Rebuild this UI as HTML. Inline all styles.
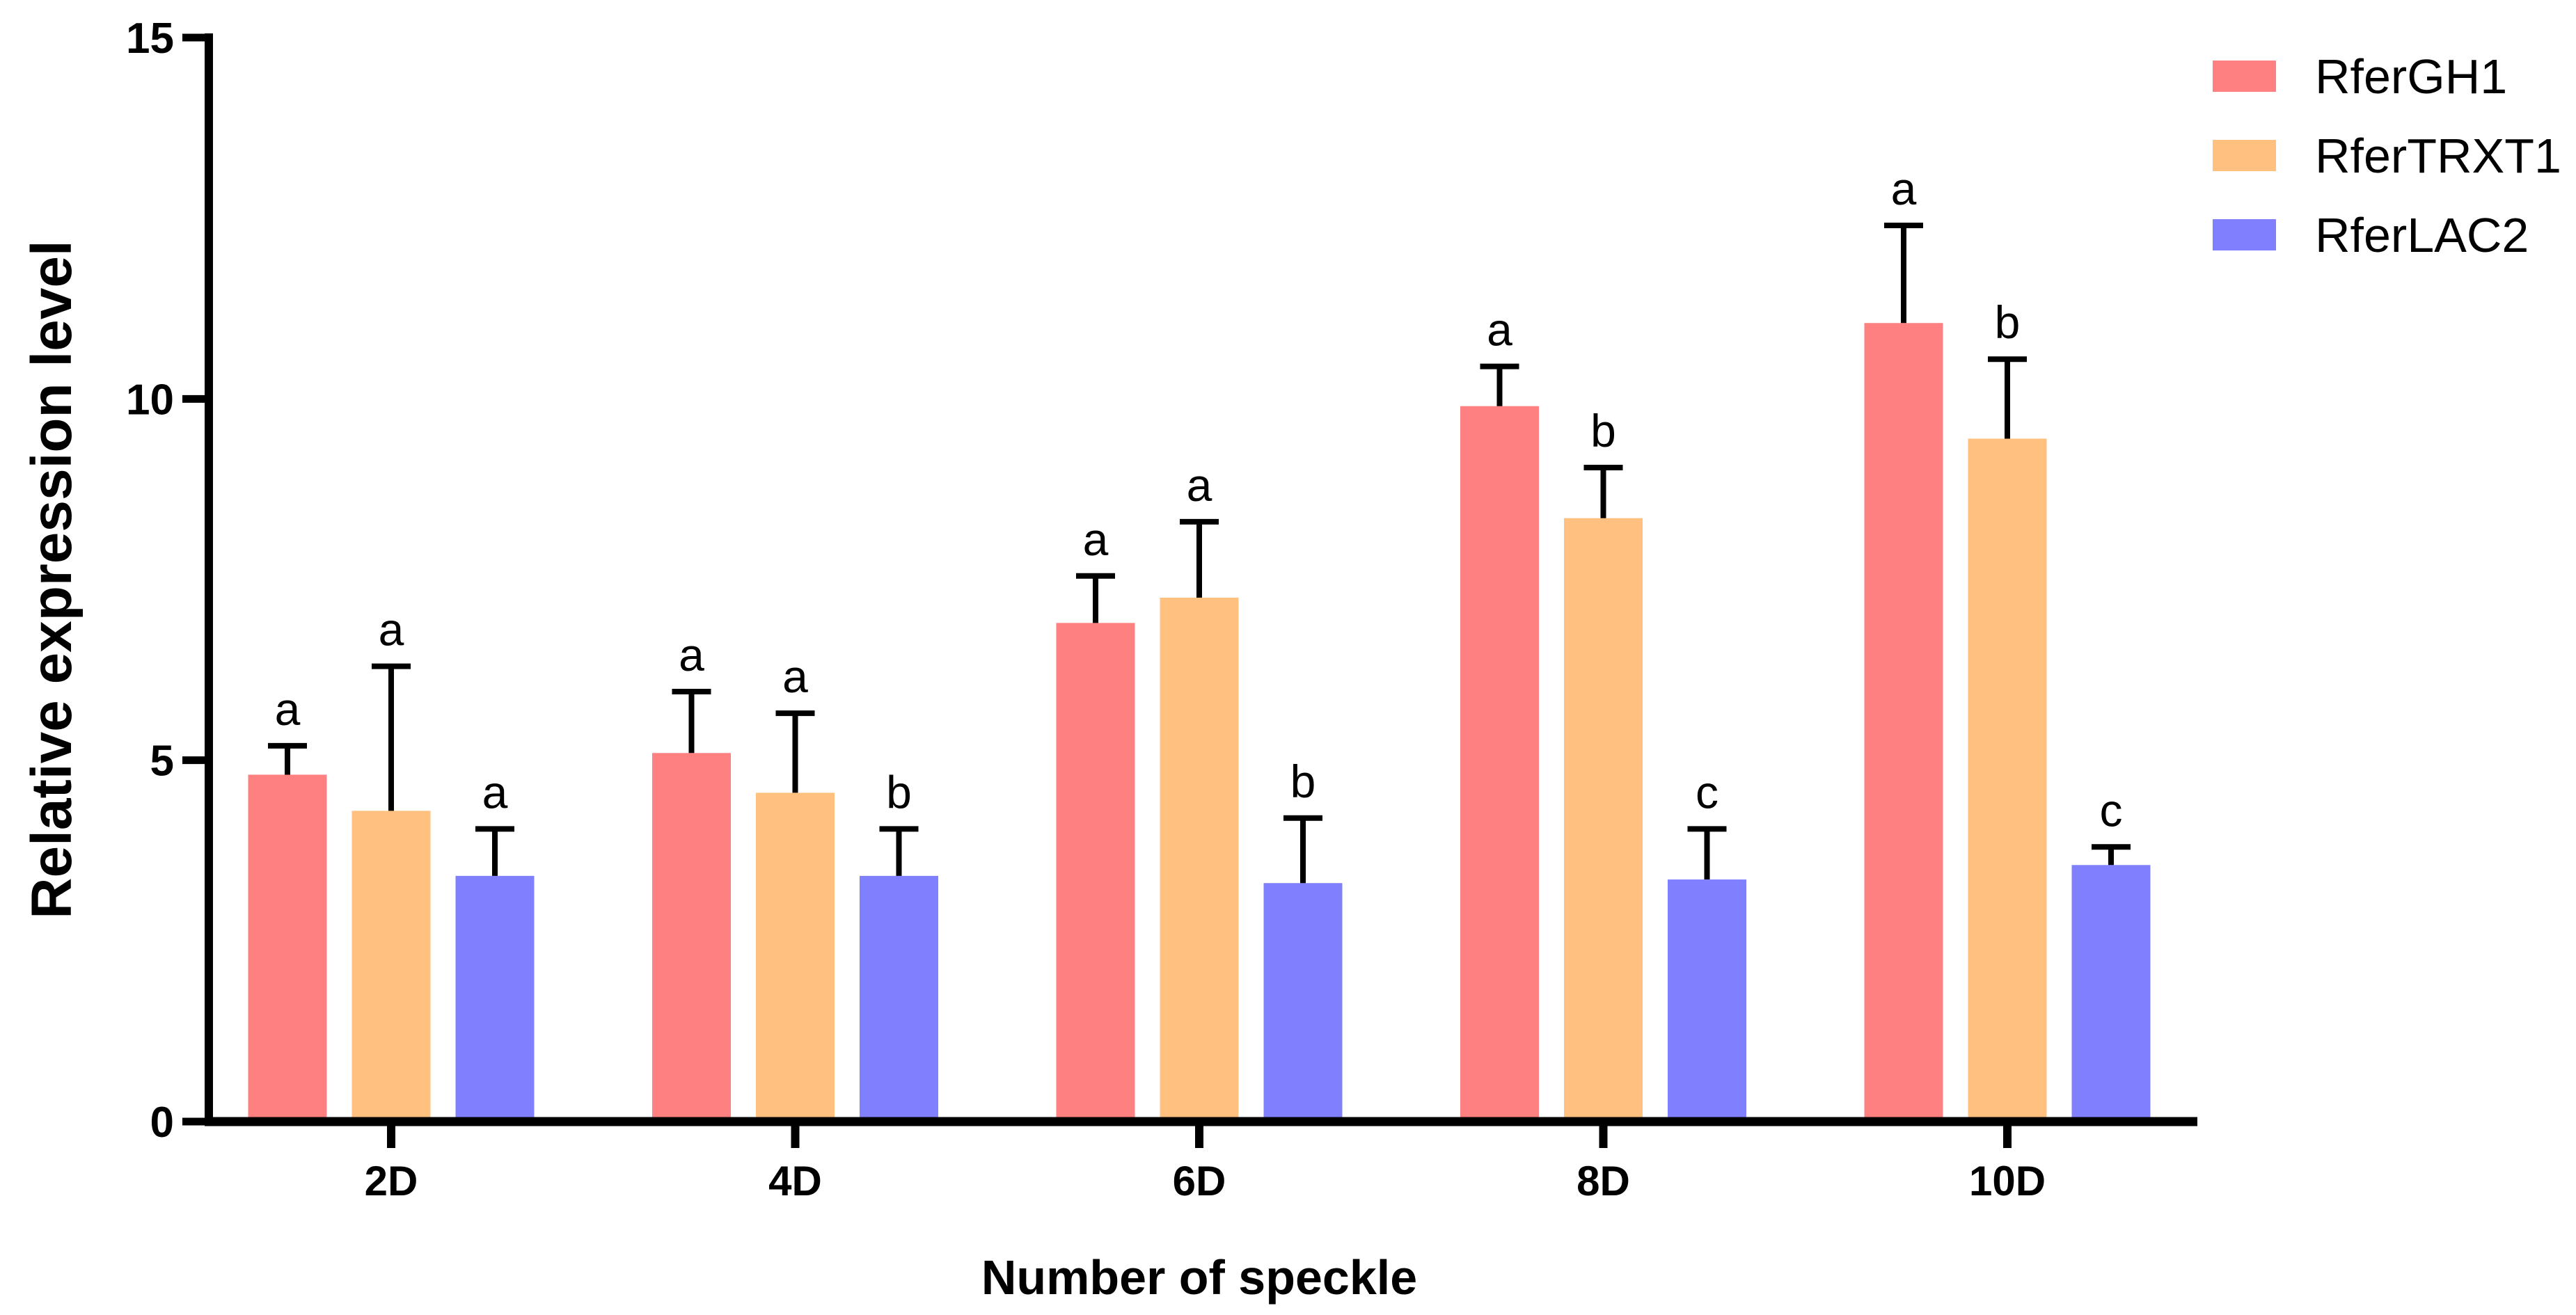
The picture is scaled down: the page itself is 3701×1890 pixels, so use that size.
<!DOCTYPE html>
<html><head><meta charset="utf-8"><style>
body{margin:0;background:#fff;}
svg{display:block;font-family:"Liberation Sans",Arial,sans-serif;}
</style></head><body>
<svg id="chart" width="3701" height="1890" viewBox="0 0 3701 1890" xmlns="http://www.w3.org/2000/svg">
<g id="plot"></g>
</svg>
<script>
const categories = ["2D","4D","6D","8D","10D"];
const seriesNames = ["RferGH1","RferTRXT1","RferLAC2"];
const ghValues = [4.8, 5.1, 6.9, 9.9, 11.05];
const ghErrTop = [5.2, 5.95, 7.55, 10.45, 12.4];
const trxValues = [4.3, 4.55, 7.25, 8.35, 9.45];
const trxErrTop = [6.3, 5.65, 8.3, 9.05, 10.55];
const lacValues = [3.4, 3.4, 3.3, 3.35, 3.55];
const lacErrTop = [4.05, 4.05, 4.2, 4.05, 3.8];
const ghLetters = ["a","a","a","a","a"];
const trxLetters = ["a","a","a","b","b"];
const lacLetters = ["a","b","b","c","c"];
const yTicks = [0,5,10,15];

const NS="http://www.w3.org/2000/svg";
const g=document.getElementById('plot');
const colors=["#ff8080","#ffc080","#8080ff"];
const x0=300,yZero=1612,yTop=54,yMax=15;
function yScale(v){return yZero-(v/yMax)*(yZero-yTop);}
function xCenter(i){return 562+i*580.5;}
function el(tag,attrs,name,inter){const e=document.createElementNS(NS,tag);for(const k in attrs)e.setAttribute(k,attrs[k]);


g.appendChild(e);return e;}
const vals=[ghValues,trxValues,lacValues],errs=[ghErrTop,trxErrTop,lacErrTop],lets=[ghLetters,trxLetters,lacLetters];
const bw=113,step=149;
categories.forEach((c,i)=>{
  for(let s=0;s<3;s++){
    const cx=xCenter(i)+(s-1)*step;
    const yt=yScale(vals[s][i]),ye=yScale(errs[s][i]);
    el('rect',{x:cx-bw/2,y:yt,width:bw,height:yZero-yt,fill:colors[s]},'bar-'+seriesNames[s].toLowerCase()+'-'+c.toLowerCase(),false);
    el('line',{x1:cx,x2:cx,y1:yt,y2:ye,stroke:'#000','stroke-width':8},'error-bar',false);
    el('line',{x1:cx-28,x2:cx+28,y1:ye,y2:ye,stroke:'#000','stroke-width':8},'error-cap',false);
    const t=el('text',{x:cx,y:ye-30,'text-anchor':'middle','font-size':66},'significance-letter',false);t.textContent=lets[s][i];
  }
  el('line',{x1:xCenter(i),x2:xCenter(i),y1:yZero,y2:yZero+38,stroke:'#000','stroke-width':12},'x-tick',false);
  const t=el('text',{x:xCenter(i),y:1718,'text-anchor':'middle','font-size':60,'font-weight':'bold'},'x-tick-label',false);t.textContent=c;
});
yTicks.forEach(v=>{
  el('line',{x1:262,x2:x0,y1:yScale(v),y2:yScale(v),stroke:'#000','stroke-width':11},'y-tick',false);
  const t=el('text',{x:250,y:yScale(v)+22,'text-anchor':'end','font-size':62,'font-weight':'bold'},'y-tick-label',false);t.textContent=v;
});
el('line',{x1:x0,x2:x0,y1:48,y2:yZero+6,stroke:'#000','stroke-width':12},'y-axis',false);
el('line',{x1:x0-6,x2:3157,y1:yZero,y2:yZero,stroke:'#000','stroke-width':13},'x-axis',false);
let t=el('text',{x:1723,y:1860,'text-anchor':'middle','font-size':70,'font-weight':'bold'},'x-axis-title',false);t.textContent='Number of speckle';
t=el('text',{x:0,y:0,'text-anchor':'middle','font-size':82,'font-weight':'bold',transform:'translate(102,833) rotate(-90)'},'y-axis-title',false);t.textContent='Relative expression level';
seriesNames.forEach((n,s)=>{
  const y=87+s*114;
  el('rect',{x:3179,y:y,width:91,height:45,fill:colors[s]},'legend-swatch-'+n.toLowerCase(),false);
  const tt=el('text',{x:3326,y:y+47,'font-size':70},'legend-label-'+n.toLowerCase(),false);tt.textContent=n;
});
</script>
</body></html>
